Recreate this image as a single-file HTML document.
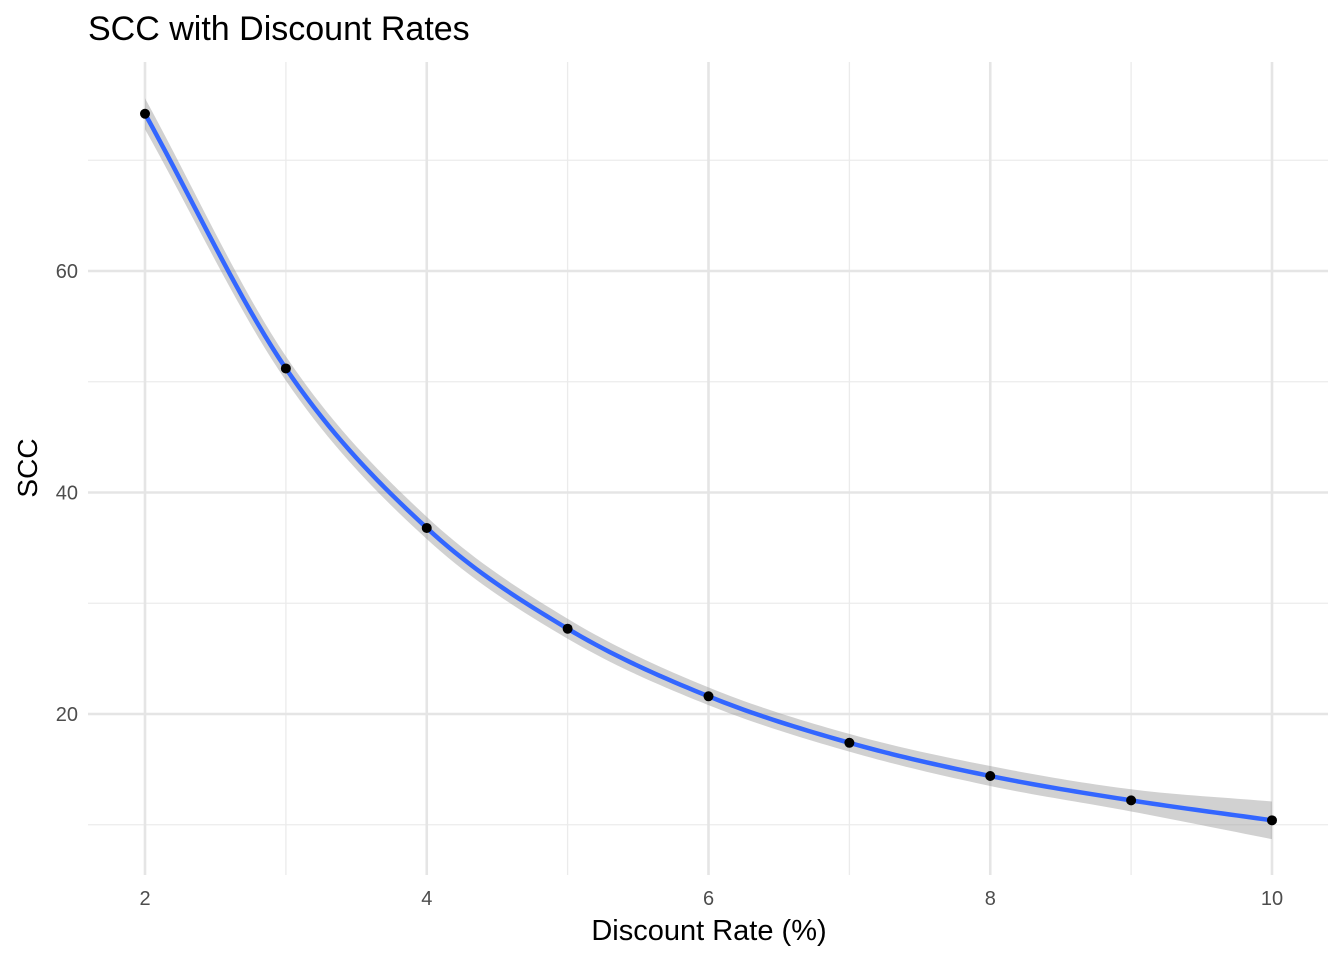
<!DOCTYPE html>
<html><head><meta charset="utf-8"><style>
body{margin:0;background:#fff;font-family:"Liberation Sans",Arial,sans-serif}
</style></head><body>
<svg id="chart" width="1344" height="960" xmlns="http://www.w3.org/2000/svg">
<rect width="1344" height="960" fill="#fff"/>
<text x="88" y="40" font-size="34" fill="#000">SCC with Discount Rates</text>
<g id="grid"></g><g id="band"></g><g id="line"></g><g id="pts"></g><g id="ticks"></g>
<text x="709" y="940" font-size="29" text-anchor="middle" fill="#000">Discount Rate (%)</text>
<text transform="translate(37,468) rotate(-90)" font-size="28" text-anchor="middle" fill="#000">SCC</text>
</svg>
<script>
const rates=[2,3,4,5,6,7,8,9,10];
const scc=[74.2,51.2,36.8,27.7,21.6,17.4,14.4,12.2,10.4];
const seBand=[1.4,1.1,1.0,0.9,0.8,0.8,0.9,1.0,1.7];
const xTicks=[2,4,6,8,10];
const yTicks=[20,40,60];
const xMinor=[3,5,7,9];
const yMinor=[10,30,50,70];
const NS="http://www.w3.org/2000/svg";
const X0=88,X1=1328,Y0=62,Y1=875;
const sx=v=>145+(v-2)*(1272-145)/8;
const sy=v=>271-(v-60)*(714-271)/40;
function mk(tag,attrs,parent){const e=document.createElementNS(NS,tag);for(const k in attrs)e.setAttribute(k,attrs[k]);document.getElementById(parent).appendChild(e);return e;}
yMinor.forEach(v=>{const e=mk('line',{x1:X0,x2:X1,y1:sy(v),y2:sy(v),stroke:'#ebebeb','stroke-width':1.3},'grid');

});
xMinor.forEach(v=>{const e=mk('line',{x1:sx(v),x2:sx(v),y1:Y0,y2:Y1,stroke:'#ebebeb','stroke-width':1.3},'grid');

});
yTicks.forEach(v=>{const e=mk('line',{x1:X0,x2:X1,y1:sy(v),y2:sy(v),stroke:'#e5e5e5','stroke-width':2.6},'grid');


const t=mk('text',{x:78,y:sy(v)+7,'font-size':20,fill:'#4d4d4d','text-anchor':'end'},'ticks');t.textContent=v;

});
xTicks.forEach(v=>{const e=mk('line',{x1:sx(v),x2:sx(v),y1:Y0,y2:Y1,stroke:'#e5e5e5','stroke-width':2.6},'grid');


const t=mk('text',{x:sx(v),y:905,'font-size':20,fill:'#4d4d4d','text-anchor':'middle'},'ticks');t.textContent=v;

});
function spline(xs,ys){const n=xs.length,out=[];
for(let i=0;i<n-1;i++){const p0=i?ys[i-1]:2*ys[0]-ys[1],p3=i+2<n?ys[i+2]:2*ys[n-1]-ys[n-2],p1=ys[i],p2=ys[i+1];
for(let k=0;k<20;k++){const t=k/20;const y=0.5*((2*p1)+(-p0+p2)*t+(2*p0-5*p1+4*p2-p3)*t*t+(-p0+3*p1-3*p2+p3)*t*t*t);out.push([xs[i]+t*(xs[i+1]-xs[i]),y]);}}
out.push([xs[n-1],ys[n-1]]);return out;}
const mid=spline(rates,scc);
const up=spline(rates,scc.map((v,i)=>v+seBand[i]));
const lo=spline(rates,scc.map((v,i)=>v-seBand[i]));
const bd='M'+up.map(p=>sx(p[0])+','+sy(p[1])).join('L')+'L'+lo.reverse().map(p=>sx(p[0])+','+sy(p[1])).join('L')+'Z';
const b=mk('path',{d:bd,fill:'#999',opacity:0.45},'band');


const l=mk('path',{d:'M'+mid.map(p=>sx(p[0])+','+sy(p[1])).join('L'),fill:'none',stroke:'#3366ff','stroke-width':4.5},'line');


rates.forEach((r,i)=>{const c=mk('circle',{cx:sx(r),cy:sy(scc[i]),r:5,fill:'#000'},'pts');

});
</script>
</body></html>
